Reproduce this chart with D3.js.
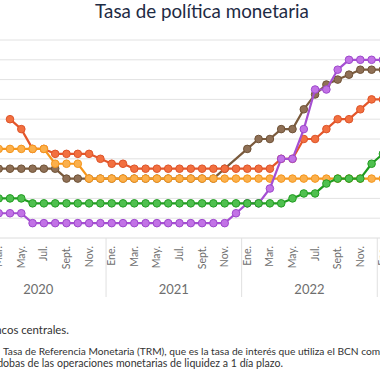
<!DOCTYPE html>
<html>
<head>
<meta charset="utf-8">
<script src="https://cdn.jsdelivr.net/npm/d3@7"></script>
<style>
  html, body { margin: 0; padding: 0; background: #fff; overflow: hidden; }
  svg { display: block; font-family: Lato, "Noto Sans", sans-serif; }
</style>
</head>
<body>
<svg id="chart" width="380" height="380"></svg>
<script>
// ---------- data ----------
const monthNames = ["Ene.","Feb.","Mar.","Abr.","May.","Jun.","Jul.","Ago.","Sept.","Oct.","Nov.","Dic."];
const years = ["2020","2021","2022","2023"];
// months Jan 2020 .. Jan 2023 (37 points)
const months = d3.range(37).map(i => years[Math.floor(i / 12)] + "-" + monthNames[i % 12]);

const yTicks = [1,2,3,4,5,6,7,8,9,10];

const brown  = [null,null,3.5,3.5,3.5,3.5,3.5,3.5,3.0,3.0,3.0,3.0, 3.0,3.0,3.0,3.0,3.0,3.0,3.0,3.0,3.0,3.0,3.5,null, 4.5,5.0,5.0,5.5,5.5,6.5,7.25,7.75,8.0,8.25,8.5,8.5, 8.5];
const red    = [null,null,null,6.0,5.5,4.5,4.5,4.25,4.25,4.25,4.25,4.0, 3.75,3.75,3.5,3.5,3.5,3.5,3.5,3.5,3.5,3.5,3.5,3.5, 3.5,3.5,3.5,4.0,4.0,5.0,5.0,5.5,6.0,6.0,6.5,7.0, 7.0];
const orange = [null,null,4.5,4.5,4.5,4.5,4.5,3.75,3.75,3.75,3.0,3.0, 3.0,3.0,3.0,3.0,3.0,3.0,3.0,3.0,3.0,3.0,3.0,3.0, 3.0,3.0,3.0,3.0,3.0,3.0,3.0,3.0,3.0,3.0,3.0,3.0, 3.0];
const purple = [null,null,1.25,1.25,1.25,0.75,0.75,0.75,0.75,0.75,0.75,0.75, 0.75,0.75,0.75,0.75,0.75,0.75,0.75,0.75,0.75,0.75,0.75,1.25, 1.75,1.75,2.5,4.0,4.0,5.5,7.5,7.5,8.5,9.0,9.0,9.0, 9.0];
const green  = [null,null,2.0,2.0,2.0,1.75,1.75,1.75,1.75,1.75,1.75,1.75, 1.75,1.75,1.75,1.75,1.75,1.75,1.75,1.75,1.75,1.75,1.75,1.75, 1.75,1.75,1.75,1.75,2.0,2.25,2.25,2.75,3.0,3.0,3.0,3.75, 4.25];

const seriesOrder = [
  {values: brown,  line: "#7a5a3c", fill: "#8f7056", stroke: "#6f5236"},
  {values: red,    line: "#e4562a", fill: "#f27040", stroke: "#de5328"},
  {values: orange, line: "#f5961c", fill: "#fbb04c", stroke: "#f5961c"},
  {values: purple, line: "#a54fd2", fill: "#c272e6", stroke: "#9d48cc"},
  {values: green,  line: "#1f9b1f", fill: "#4fc04f", stroke: "#239d23"}
];

const title = "Tasa de política monetaria";
const notes = [
  {text: "Bancos centrales.", anchor: "end"},
  {text: "Tasa de Referencia Monetaria (TRM), que es la tasa de interés que utiliza el BCN como", anchor: "start"},
  {text: "córdobas de las operaciones monetarias de liquidez a 1 día plazo.", anchor: "end"}
];

// ---------- scales ----------
const svg = d3.select("#chart");
const x = d3.scalePoint().domain(months).range([-23.9, 382.9]);
const step = x.step();
const y = d3.scaleLinear().domain([0, 10]).range([238, 40]);
const xi = i => x(months[i]);

// title
svg.append("text")
  .attr("x", 202).attr("y", 18)
  .attr("text-anchor", "middle")
  .attr("font-size", 18.8)
  .attr("fill", "#1e2b44")
  .text(title);

// gridlines
svg.append("g").selectAll("line").data(yTicks).join("line")
  .attr("x1", 0).attr("x2", 380)
  .attr("y1", d => y(d)).attr("y2", d => y(d))
  .attr("stroke", "#e2e2e2").attr("stroke-width", 1);

// x axis baseline
svg.append("line")
  .attr("x1", 0).attr("x2", 380)
  .attr("y1", y(0)).attr("y2", y(0))
  .attr("stroke", "#dcdcdc").attr("stroke-width", 1);

// month labels (every second month)
const tickIdx = d3.range(0, 37, 2);
svg.append("g").selectAll("text").data(tickIdx).join("text")
  .attr("transform", i => `translate(${xi(i) + 3.5},246) rotate(-90)`)
  .attr("text-anchor", "end")
  .attr("font-size", 10.5)
  .attr("fill", "#6e6e6e")
  .text(i => monthNames[i % 12]);

// year separators
const sepIdx = [12, 24, 36];
svg.append("g").selectAll("line").data(sepIdx).join("line")
  .attr("x1", i => xi(i) - step / 2).attr("x2", i => xi(i) - step / 2)
  .attr("y1", 238).attr("y2", 297)
  .attr("stroke", "#e0e0e0").attr("stroke-width", 1);

// year labels (centered in each 12-month band)
svg.append("g").selectAll("text").data(years).join("text")
  .attr("x", (d, k) => xi(0) - step / 2 + (k * 12 + 6) * step)
  .attr("y", 294)
  .attr("text-anchor", "middle")
  .attr("font-size", 13)
  .attr("fill", "#6e6e6e")
  .text(d => d);

// series
const line = d3.line().x(d => xi(d.i)).y(d => y(d.v));
seriesOrder.forEach(s => {
  const pts = s.values.map((v, i) => ({i, v})).filter(d => d.v != null);
  const g = svg.append("g");
  g.append("path")
    .attr("d", line(pts))
    .attr("fill", "none")
    .attr("stroke", s.line)
    .attr("stroke-width", 2.2)
    .attr("stroke-linejoin", "round");
  g.selectAll("circle").data(pts).join("circle")
    .attr("cx", d => xi(d.i)).attr("cy", d => y(d.v))
    .attr("r", 3.8)
    .attr("fill", s.fill)
    .attr("stroke", s.stroke)
    .attr("stroke-width", 1);
});

// notes
svg.append("text").attr("x", 69).attr("y", 333.5)
  .attr("text-anchor", notes[0].anchor).attr("font-size", 11.4).attr("fill", "#333")
  .text(notes[0].text);
svg.append("text").attr("x", 3).attr("y", 355)
  .attr("text-anchor", notes[1].anchor).attr("font-size", 10.2).attr("fill", "#333")
  .text(notes[1].text);
svg.append("text").attr("x", 283).attr("y", 366.5)
  .attr("text-anchor", notes[2].anchor).attr("font-size", 10.6).attr("fill", "#333")
  .text(notes[2].text);
</script>
</body>
</html>
